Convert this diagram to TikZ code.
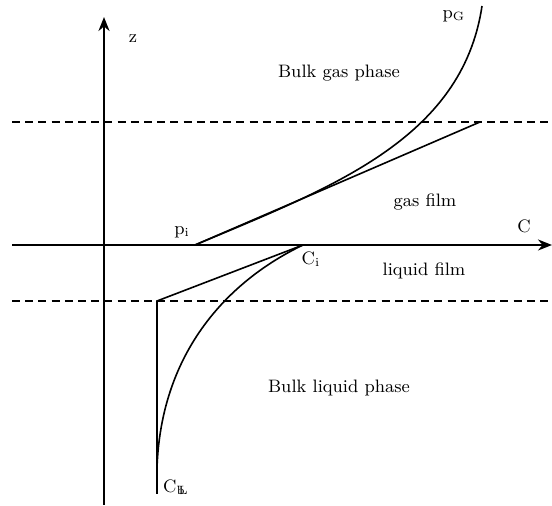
\documentclass[tikz,border=0pt]{standalone}
\usetikzlibrary{arrows.meta}
\begin{document}
\begin{tikzpicture}[x=0.5pt,y=-0.5pt,
  axis/.style={line width=1pt,-{Stealth[length=7pt,width=5.5pt]}},
  curve/.style={line width=0.8pt},
  dline/.style={line width=0.8pt,dash pattern=on 4pt off 2.6pt},
  lbl/.style={font=\fontsize{9}{11}\selectfont,inner sep=0pt}]
\useasboundingbox (0,0) rectangle (552,506);
% coordinates
\coordinate (ybot) at (104,505);
\coordinate (ytop) at (104,17);
\coordinate (xl) at (12,245);
\coordinate (xr) at (552,245);
\coordinate (d1l) at (12,122);
\coordinate (d1r) at (552,122);
\coordinate (d2l) at (12,301);
\coordinate (d2r) at (552,301);
\coordinate (pi) at (195,245);
\coordinate (pend) at (480,122);
\coordinate (pg) at (482,6);
\coordinate (ci) at (303,245);
\coordinate (cf) at (157,301);
\coordinate (cb) at (157,494);
\coordinate (cc) at (157,468);
% dashed lines
\draw[dline] (d1l) -- (d1r);
\draw[dline] (d2l) -- (d2r);
% axes
\draw[axis] (ybot) -- (ytop);
\draw[axis] (xl) -- (xr);
% gas side
\draw[curve] (pi) -- (pend);
\draw[curve] (pi) .. controls (330,188) and (462,140) .. (pg);
% liquid side
\draw[curve] (ci) -- (cf) -- (cb);
\draw[curve] (ci) .. controls (230,280) and (161,350) .. (cc);
% labels
\node[lbl] (z) at (133,39) {z};
\node[lbl] (pG) at (454,16) {p$_{\mathrm{G}}$};
\node[lbl] (bg) at (339,73) {Bulk gas phase};
\node[lbl] (gf) at (425,202) {gas film};
\node[lbl] (C) at (524,226) {C};
\node[lbl] (pil) at (182,232) {p$_{\mathrm{i}}$};
\node[lbl] (cil) at (311,259) {C$_{\mathrm{i}}$};
\node[lbl] (lf) at (424,271) {liquid film};
\node[lbl] (bl) at (339,388) {Bulk liquid phase};
\node[lbl] (cbl) at (176,487) {C$_{\mathrm{b}\mkern-7mu\mathrm{L}}$};
\end{tikzpicture}
\end{document}
